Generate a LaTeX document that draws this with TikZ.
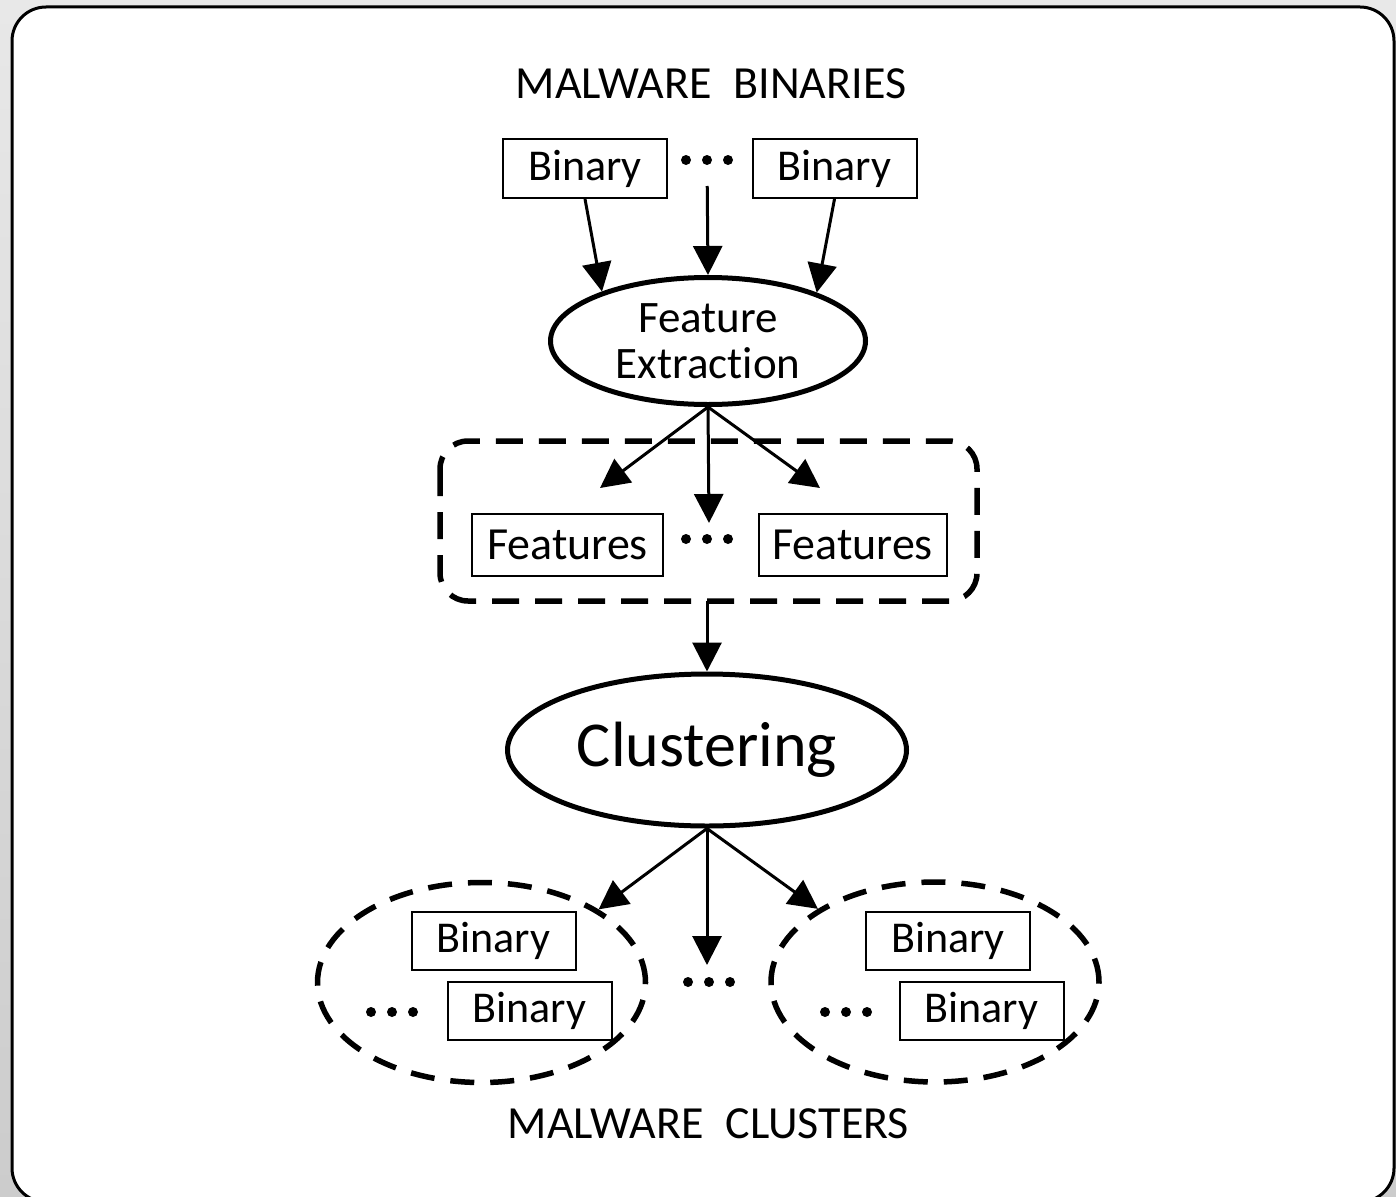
\documentclass[tikz,border=0pt]{standalone}
\usepackage{fontspec}
\setmainfont{Carlito}[Ligatures={NoCommon}]
\usetikzlibrary{shapes.geometric,arrows.meta,calc}
% a row of three small dots centred on a named coordinate
\newcommand\threedots[1]{\foreach \dx in {-21,0,21}{\fill ($(#1)+(\dx,0)$) circle (5pt);}}
\begin{document}
\begin{tikzpicture}[x=1pt,y=-1pt,
  txt/.style={font=\fontsize{44}{46}\selectfont},
  bigtxt/.style={font=\fontsize{46}{46}\selectfont},
  binbox/.style={draw, line width=2pt, minimum width=164pt, minimum height=59pt, inner sep=0pt, txt},
  featbox/.style={draw, line width=2pt, minimum height=62pt, inner sep=0pt, font=\fontsize{46}{48}\selectfont},
  proc/.style={ellipse, draw, line width=5pt, inner sep=0pt, fill=white},
  arr/.style={line width=3pt, -{Triangle[length=29pt,width=29pt]}},
  group/.style={draw, line width=5.5pt, dash pattern=on 27pt off 16pt},
  cluster/.style={ellipse, draw, line width=5.5pt, dash pattern=on 24pt off 16pt,
    minimum width=328pt, minimum height=200pt, inner sep=0pt},
]
\clip (0,0) rectangle (1396,1196);
\shade[top color=black!9, bottom color=black!20] (0,0) rectangle (1396,1196);
\draw[line width=3pt, fill=white, rounded corners=34pt] (12,7) rectangle (1394,1202);

% input binaries
\node[bigtxt, anchor=base] (intitle) at (711,99) {MALWARE\hspace{22pt}BINARIES};
\node[binbox] (b1) at (585,168.5) {Binary};
\node[binbox] (b2) at (834.5,168.5) {Binary};
\coordinate (bdots) at (707,160);
\threedots{bdots}

% feature extraction
\node[proc, minimum width=315pt, minimum height=127pt, align=center,
  font=\fontsize{45}{46}\selectfont] (fe) at (708,341) {Feature\\Extraction};
\draw[arr] (b1.south) -- (fe.155);
\draw[arr] (b2.south) -- (fe.24.5);
\draw[arr, shorten <=26pt] (bdots) -- (fe.north);

% extracted features
\draw[group, rounded corners=28pt] (440,441) rectangle (977,601);
\node[featbox, minimum width=191pt] (f1) at (567.5,544.5) {Features};
\node[featbox, minimum width=188pt] (f2) at (852.5,544.5) {Features};
\coordinate (fdots) at (707,539);
\threedots{fdots}
\coordinate (fl) at (600,488);
\coordinate (fm) at (709,523);
\coordinate (fr) at (820,488);
\draw[arr] (fe.south) -- (fl);
\draw[arr] (fe.south) -- (fm);
\draw[arr] (fe.south) -- (fr);

% clustering
\node[proc, minimum width=399pt, minimum height=152pt, font=\fontsize{64}{66}\selectfont] (cl) at (707,750) {Clustering};
\coordinate (gbottom) at (707,601);
\draw[arr] (gbottom) -- (cl.north);

% resulting clusters
\node[cluster] (c1) at (481.5,982.5) {};
\node[cluster] (c2) at (935,982) {};
\node[binbox, minimum height=58pt] (c1a) at (493.5,941) {Binary};
\node[binbox, minimum height=58pt] (c1b) at (529.5,1011) {Binary};
\node[binbox, minimum height=58pt] (c2a) at (948,941) {Binary};
\node[binbox, minimum height=58pt] (c2b) at (981.5,1011) {Binary};
\coordinate (c1dots) at (392,1012);
\coordinate (c2dots) at (846,1012);
\coordinate (cdots) at (709,982);
\threedots{c1dots}
\threedots{c2dots}
\threedots{cdots}
\coordinate (cm) at (707,965);
\draw[arr] (cl.south) -- (c1.32);
\draw[arr] (cl.south) -- (cm);
\draw[arr] (cl.south) -- (c2.148);
\node[bigtxt, anchor=base] (outtitle) at (708.5,1138) {MALWARE\hspace{22pt}CLUSTERS};
\end{tikzpicture}
\end{document}
